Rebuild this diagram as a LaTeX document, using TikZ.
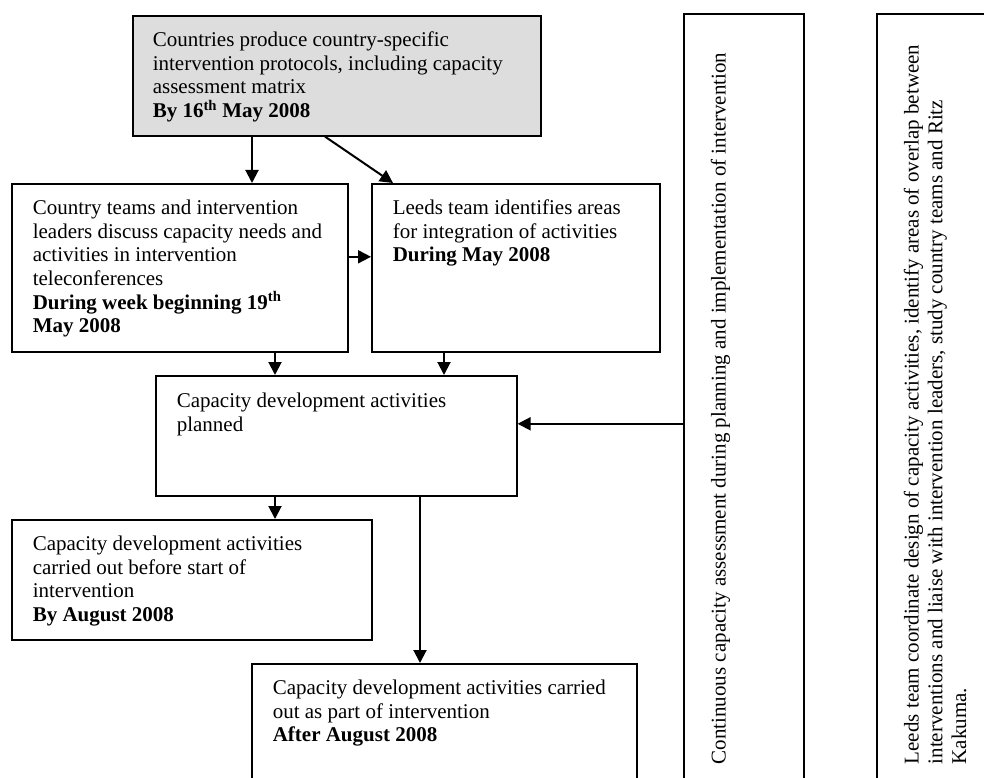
\documentclass[tikz,border=0pt]{standalone}
\usepackage{fontspec}
\setmainfont{Liberation Serif}
\usetikzlibrary{arrows.meta}

\definecolor{boxgray}{HTML}{DDDDDD}

% text of a box: width, height, left gap, top gap, lines
\newcommand{\boxtext}[5]{\hspace*{#3}\parbox[t][#2][t]{\dimexpr #1-#3\relax}{\vspace*{#4}\raggedright #5}}

\tikzset{
  flowbox/.style={draw, line width=1.6pt, inner sep=0pt, anchor=north west,
    font=\fontsize{21}{23.7}\selectfont},
  arr/.style={line width=2pt, -{Triangle[length=13pt,width=13pt]}}
}

\begin{document}
\begin{tikzpicture}[x=1pt,y=-1pt]
        % Page frame
        \useasboundingbox (0,0) rectangle (984,778);
        \clip (0,0) rectangle (984,778);

        % Boxes of the flow chart
        \node[flowbox, fill=boxgray] (protocols) at (132,15)
            {\boxtext{408pt}{120pt}{20pt}{16pt}{Countries produce country-specific\\
             intervention protocols, including capacity\\ assessment matrix\\
             \textbf{By 16\textsuperscript{th} May 2008}}};
        \node[flowbox] (teams) at (11,183)
            {\boxtext{336pt}{168pt}{21pt}{16pt}{Country teams and intervention\\
             leaders discuss capacity needs and\\ activities in intervention\\
             teleconferences\\ \textbf{During week beginning 19\textsuperscript{th}}\\
             \textbf{May 2008}}};
        \node[flowbox] (leeds) at (371,183)
            {\boxtext{288pt}{168pt}{21pt}{16pt}{Leeds team identifies areas\\
             for integration of activities\\ \textbf{During May 2008}}};
        \node[flowbox] (planned) at (155,375)
            {\boxtext{361pt}{120pt}{21pt}{17pt}{Capacity development activities\\ planned}};
        \node[flowbox] (before) at (11,519)
            {\boxtext{360pt}{120pt}{21pt}{16pt}{Capacity development activities\\
             carried out before start of\\ intervention\\ \textbf{By August 2008}}};
        \node[flowbox] (part) at (251,663)
            {\boxtext{385pt}{130pt}{21pt}{16pt}{Capacity development activities carried\\
             out as part of intervention\\ \textbf{After August 2008}}};

        % Vertical boxes on the right
        \node[flowbox, rotate=90] (assess) at (683,785)
            {\boxtext{770pt}{120pt}{20pt}{27pt}{Continuous capacity assessment during
             planning and implementation of intervention}};
        \node[flowbox, rotate=90] (coord) at (876,785)
            {\boxtext{770pt}{130pt}{20pt}{27pt}{Leeds team coordinate design of capacity
             activities, identify areas of overlap between\\ interventions and liaise with
             intervention leaders, study country teams and Ritz\\ Kakuma.}};

        % Arrows
        \draw[arr] ([xshift=120pt]protocols.south west) -- ([xshift=120pt]protocols.south west |- teams.north);
        \draw[arr] ([xshift=193pt]protocols.south west) -- ([xshift=22pt]leeds.north west);
        \draw[arr] ([yshift=11pt]teams.east) -- ([yshift=11pt]teams.east -| leeds.west);
        \draw[arr] ([xshift=264pt]teams.south west) -- ([xshift=264pt]teams.south west |- planned.north);
        \draw[arr] ([xshift=73pt]leeds.south west) -- ([xshift=73pt]leeds.south west |- planned.north);
        \draw[arr] ([yshift=12pt]planned.east -| assess.north) -- ([yshift=12pt]planned.east);
        \draw[arr] ([xshift=120pt]planned.south west) -- ([xshift=120pt]planned.south west |- before.north);
        \draw[arr] ([xshift=265pt]planned.south west) -- ([xshift=265pt]planned.south west |- part.north);
\end{tikzpicture}
\end{document}
